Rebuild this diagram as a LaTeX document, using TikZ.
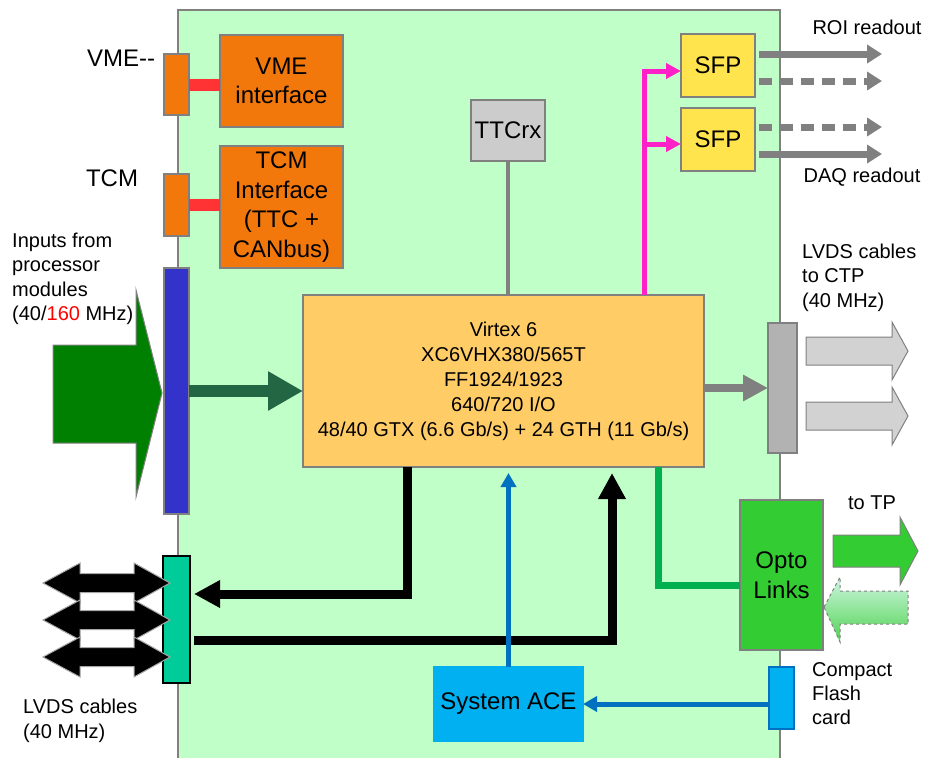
\documentclass[tikz,border=0pt]{standalone}
\usepackage{fontspec}
\setmainfont{Liberation Sans}
\usetikzlibrary{arrows.meta,positioning,calc}

\definecolor{boardgreen}{RGB}{192,255,200}
\definecolor{edgegray}{RGB}{128,128,128}
\definecolor{vmeorange}{RGB}{242,120,12}
\definecolor{linkred}{RGB}{255,51,51}
\definecolor{inblue}{RGB}{51,51,204}
\definecolor{fpgaorange}{RGB}{255,204,102}
\definecolor{ttcgray}{RGB}{204,204,204}
\definecolor{sfpyellow}{RGB}{255,228,77}
\definecolor{pinklink}{RGB}{255,32,200}
\definecolor{optogreen}{RGB}{51,204,51}
\definecolor{linkgreen}{RGB}{0,176,80}
\definecolor{aceblue}{RGB}{0,176,240}
\definecolor{lineblue}{RGB}{0,112,192}
\definecolor{lvdsteal}{RGB}{0,204,153}
\definecolor{busgreen}{RGB}{34,102,68}
\definecolor{biggreen}{RGB}{0,128,0}
\definecolor{ctpgray}{RGB}{178,178,178}
\definecolor{cablegray}{RGB}{210,210,210}
\definecolor{mint}{RGB}{205,245,225}

\begin{document}
\begin{tikzpicture}[
    x=1pt, y=-1pt,
    module/.style={
        rectangle, draw=edgegray, line width=1.5pt,
        outer sep=0pt, inner sep=0pt, align=center,
        font=\fontsize{24}{29.5}\selectfont
    },
    port/.style={rectangle, draw=edgegray, line width=1.5pt, outer sep=0pt, inner sep=0pt, minimum width=25pt},
    sidenote/.style={font=\fontsize{20}{24.3}\selectfont, align=left, inner sep=0pt},
    redlink/.style={line width=12pt, draw=linkred},
    greenbus/.style={line width=12pt, draw=busgreen, -{Triangle[length=35pt,width=37pt]}},
    graybus/.style={line width=8pt, draw=edgegray, -{Triangle[length=25pt,width=25pt]}},
    readout/.style={line width=7pt, draw=edgegray, -{Triangle[length=15pt,width=18pt]}},
    pinkconn/.style={line width=5pt, draw=pinklink, -{Triangle[length=15pt,width=15pt]}},
    blackbus/.style={line width=9pt, draw=black, -{Triangle[length=26pt,width=26pt]}},
    blueconn/.style={line width=5pt, draw=lineblue, -{Triangle[length=14pt,width=15pt]}},
    optolink/.style={line width=7pt, draw=linkgreen},
    blockarrow/.style={draw=edgegray, line width=1pt}
]
    \useasboundingbox (0,0) rectangle (927,758);

    % Board
    \node[rectangle, draw=edgegray, line width=2pt, fill=boardgreen, outer sep=0pt,
          minimum width=602pt, minimum height=770pt, anchor=north west] (board) at (178,10) {};

    % Nodes
    \node[port, fill=vmeorange, minimum height=61pt] (vmeconn) at (176.5,84.5) {};
    \node[module, fill=vmeorange, minimum width=123pt, minimum height=92pt] (vmeif) at (281.5,81) {VME\\interface};
    \node[font=\fontsize{24}{29}\selectfont] (vmetxt) at (121,58) {VME-{}-};

    \node[port, fill=vmeorange, minimum height=62pt] (tcmconn) at (176.5,205) {};
    \node[module, fill=vmeorange, minimum width=123pt, minimum height=122pt, below=19pt of vmeif] (tcmif) {TCM\\Interface\\(TTC +\\CANbus)};
    \node[font=\fontsize{24}{29}\selectfont] (tcmtxt) at (112,178) {TCM};

    \node[port, fill=inblue, minimum height=246pt] (inbar) at (176.5,391) {};
    \node[sidenote, anchor=north west] (intxt) at (12,233) {Inputs from\\processor\\modules\\(40/\textcolor{red}{160} MHz)};

    \node[module, fill=fpgaorange, minimum width=401pt, minimum height=172pt,
          font=\fontsize{20}{25}\selectfont] (fpga) at (503.5,381)
          {Virtex 6\\XC6VHX380/565T\\FF1924/1923\\640/720 I/O\\48/40 GTX (6.6 Gb/s) + 24 GTH (11 Gb/s)};

    \node[module, fill=ttcgray, minimum width=74pt, minimum height=61pt] (ttcrx) at (508,130.5) {TTCrx};

    \node[module, fill=sfpyellow, minimum width=74pt, minimum height=63pt] (sfpA) at (718,65.5) {SFP};
    \node[module, fill=sfpyellow, minimum width=74pt, minimum height=63pt, below=11pt of sfpA] (sfpB) {SFP};
    \node[font=\fontsize{20}{24}\selectfont] (roitxt) at (867,27) {ROI readout};
    \node[font=\fontsize{20}{24}\selectfont] (daqtxt) at (862,177) {DAQ readout};

    \node[port, fill=ctpgray, minimum width=29pt, minimum height=130pt] (ctpconn) at (782.5,388) {};
    \node[sidenote, anchor=north west] (ctptxt) at (802,244) {LVDS cables\\to CTP\\(40 MHz)};

    \node[module, fill=optogreen, minimum width=83pt, minimum height=150pt] (opto) at (781.5,575) {Opto\\Links};
    \node[font=\fontsize{20}{24}\selectfont] (tptxt) at (872,503) {to TP};

    \node[port, fill=aceblue, draw=lineblue, minimum height=62pt] (cfconn) at (781.5,698) {};
    \node[sidenote, anchor=north west] (cftxt) at (812,662) {Compact\\Flash\\card};

    \node[module, fill=aceblue, draw=aceblue, minimum width=149pt, minimum height=74pt] (ace) at (508.5,704) {System ACE};

    \node[port, fill=lvdsteal, draw=black, minimum width=27pt, minimum height=127pt] (lvdsconn) at (176.5,619.5) {};
    \node[sidenote, anchor=north west] (lvdstxt) at (23,699) {LVDS cables\\(40 MHz)};

    % Block arrows outside the board
    \filldraw[blockarrow, fill=biggreen] (53,345) -- (136,345) -- (136,290) -- (162,393)
        -- (136,497) -- (136,443) -- (53,443) -- cycle;
    \foreach \yy in {351,416}
        \filldraw[blockarrow, fill=cablegray] (806,\yy-14) -- (892,\yy-14) -- (892,\yy-29) -- (908,\yy)
            -- (892,\yy+29) -- (892,\yy+14) -- (806,\yy+14) -- cycle;
    \filldraw[blockarrow, fill=optogreen] (833,535) -- (900,535) -- (900,517) -- (918,551)
        -- (900,585) -- (900,567) -- (833,567) -- cycle;
    \shadedraw[blockarrow, dashed, top color=mint, bottom color=optogreen!85] (824,607) -- (840,577)
        -- (840,591) -- (908,591) -- (908,624) -- (840,624) -- (840,642) -- cycle;
    \foreach \yy in {583,620,657}
        \filldraw[draw=gray!70, line width=1pt, fill=black] (43,\yy) -- (80,\yy-20) -- (80,\yy-9.5)
            -- (134,\yy-9.5) -- (134,\yy-20) -- (170,\yy) -- (134,\yy+20) -- (134,\yy+9.5)
            -- (80,\yy+9.5) -- (80,\yy+20) -- cycle;

    % Connections
    \draw[redlink] (vmeconn.east) -- (vmeconn.east -| vmeif.west);
    \draw[redlink] (tcmconn.east) -- (tcmconn.east -| tcmif.west);
    \draw[greenbus] (inbar.east) -- (inbar.east -| fpga.west);
    \draw[line width=4pt, draw=edgegray] (ttcrx.south) -- (ttcrx.south |- fpga.north);
    \draw[graybus] (fpga.east |- ctpconn.west) -- (ctpconn.west);

    \draw[pinkconn] ([xshift=-60pt]fpga.north east) |- ([yshift=-5.5pt]sfpA.west);
    \draw[pinkconn] ([xshift=-60pt]fpga.north east) |- ([yshift=-4.5pt]sfpB.west);

    \draw[readout] ([xshift=4pt,yshift=11.5pt]sfpA.east) -- ++(123,0);
    \draw[readout, dash pattern=on 13pt off 8pt] ([xshift=4pt,yshift=-15.5pt]sfpA.east) -- ++(123,0);
    \draw[readout, dash pattern=on 13pt off 8pt] ([xshift=4pt,yshift=12.5pt]sfpB.east) -- ++(123,0);
    \draw[readout] ([xshift=4pt,yshift=-14.5pt]sfpB.east) -- ++(123,0);

    \draw[optolink] ([xshift=-46pt]fpga.south east) |- ([yshift=-10pt]opto.west);

    \draw[blackbus] ([xshift=104pt]fpga.south west) |- ([xshift=4pt,yshift=25.5pt]lvdsconn.east);
    \draw[blackbus] ([xshift=4pt,yshift=-20.5pt]lvdsconn.east) -| ([xshift=309pt,yshift=-6pt]fpga.south west);

    \draw[blueconn, shorten >=6pt] (ace.north) -- (ace.north |- fpga.south);
    \draw[blueconn] (cfconn.west |- ace.east) -- (ace.east);

\end{tikzpicture}
\end{document}
